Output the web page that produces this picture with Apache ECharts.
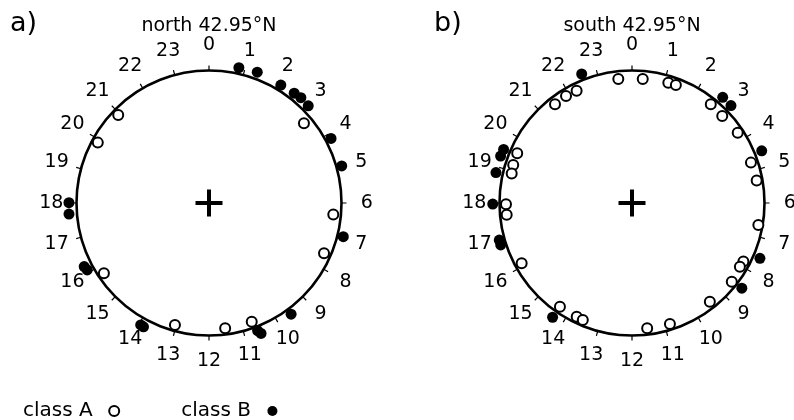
<!DOCTYPE html>
<html><head><meta charset="utf-8">
<script src="https://cdn.jsdelivr.net/npm/echarts/dist/echarts.min.js"></script>
<style>html,body{margin:0;padding:0;background:#fff}#c{width:794px;height:420px}</style>
</head><body><div id="c"></div>
<script>
// hour tick labels around each dial
const hourLabels = ['0','1','2','3','4','5','6','7','8','9','10','11','12','13','14','15','16','17','18','19','20','21','22','23'];
const panelTitles = ['north 42.95\u00b0N', 'south 42.95\u00b0N'];
const panelTags = ['a)', 'b)'];
const seriesNames = ['class A', 'class B'];
// points as [hour, radius] (radius 1 = dial circle)
const northA = [[3.33,0.936],[20.94,0.954],[19.90,0.955],[6.35,0.942],[7.57,0.947],[15.75,0.954],[13.04,0.956],[11.51,0.953],[10.68,0.952]];
const northB = [[0.83,1.046],[1.35,1.052],[2.09,1.042],[2.52,1.049],[2.74,1.055],[3.04,1.048],[4.14,1.042],[4.96,1.04],[18.01,1.057],[17.70,1.06],[6.94,1.045],[16.20,1.057],[16.08,1.049],[13.95,1.055],[13.86,1.057],[10.61,1.03],[10.55,1.06],[9.57,1.043]];
const southA = [[23.58,0.942],[0.33,0.94],[1.12,0.948],[1.36,0.95],[22.25,0.945],[21.89,0.949],[21.47,0.945],[2.57,0.954],[3.07,0.946],[3.76,0.958],[4.75,0.948],[5.32,0.956],[19.56,0.944],[19.18,0.941],[18.92,0.935],[17.96,0.951],[17.64,0.95],[16.09,0.949],[6.66,0.968],[7.85,0.95],[8.04,0.946],[8.55,0.959],[9.45,0.949],[14.32,0.953],[13.73,0.954],[13.52,0.958],[11.54,0.953],[10.84,0.957]];
const southB = [[22.58,1.045],[2.71,1.051],[3.03,1.048],[4.54,1.055],[19.51,1.05],[19.31,1.053],[18.84,1.052],[17.97,1.051],[16.96,1.04],[16.82,1.04],[7.56,1.052],[8.52,1.049],[14.32,1.05]];

const FONT = 'DejaVu Sans';
const LABEL_R = 1.19;
const centers = [[209, 203], [632, 203]];
const plusPath = 'path://M0,11.5L27,11.5L27,15.5L0,15.5Z M11.5,0L15.5,0L15.5,27L11.5,27Z';

const toPolar = arr => arr.map(p => [p[1], p[0]]);

function panelSeries(idx, A, B) {
  return [
    { type: 'scatter', coordinateSystem: 'polar', polarIndex: idx, name: seriesNames[0],
      data: toPolar(A), symbol: 'circle', symbolSize: 10, clip: false, silent: true, z: 4,
      itemStyle: { color: '#fff', borderColor: '#000', borderWidth: 2, opacity: 1 } },
    { type: 'scatter', coordinateSystem: 'polar', polarIndex: idx, name: seriesNames[1],
      data: toPolar(B), symbol: 'circle', symbolSize: 11, clip: false, silent: true, z: 4,
      itemStyle: { color: '#000', opacity: 1 } },
    { type: 'scatter', coordinateSystem: 'polar', polarIndex: idx, name: 'centre',
      data: [[0, 0]], symbol: plusPath, symbolSize: 27, clip: false, silent: true, z: 3,
      itemStyle: { color: '#000', opacity: 1 } },
    { type: 'scatter', coordinateSystem: 'polar', polarIndex: idx, name: 'hours',
      data: hourLabels.map((t, i) => [LABEL_R, i]), symbolSize: 0, clip: false, silent: true, z: 3,
      itemStyle: { color: 'transparent', opacity: 1 },
      label: { show: true, position: 'inside', formatter: p => hourLabels[p.dataIndex],
               color: '#000', opacity: 1, fontSize: 19, fontFamily: FONT } }
  ];
}

const chart = echarts.init(document.getElementById('c'), null, { renderer: 'canvas' });
const axisCommon = {
  type: 'value', min: 0, max: 24, interval: 1, startAngle: 90, clockwise: true,
  axisLine: { show: true, lineStyle: { color: '#000', width: 2.6 } },
  axisTick: { show: true, length: 5, lineStyle: { color: '#000', width: 1.2 } },
  axisLabel: { show: false }, splitLine: { show: false }, splitArea: { show: false }
};
chart.setOption({
  animation: false,
  backgroundColor: '#fff',
  polar: centers.map(c => ({ center: c, radius: 132.5 })),
  angleAxis: [0, 1].map(i => Object.assign({ polarIndex: i }, axisCommon)),
  radiusAxis: [0, 1].map(i => ({ polarIndex: i, min: 0, max: 1, show: false,
    axisLine: { show: false }, axisTick: { show: false }, axisLabel: { show: false },
    splitLine: { show: false } })),
  legend: {
    left: 18, top: 396, align: 'right', itemWidth: 33, itemHeight: 10, itemGap: 61,
    selectedMode: false,
    data: [
      { name: seriesNames[0], icon: 'circle', itemStyle: { color: '#fff', borderColor: '#000', borderWidth: 2, opacity: 1 } },
      { name: seriesNames[1], icon: 'circle', itemStyle: { color: '#000', borderWidth: 0, opacity: 1 } }
    ],
    textStyle: { fontSize: 20, fontFamily: FONT, color: '#000' }
  },
  graphic: [0, 1].flatMap(i => [
    { type: 'text', x: centers[i][0], y: 26, silent: true,
      style: { text: panelTitles[i], fontSize: 19, fontFamily: FONT, fill: '#000',
               align: 'center', verticalAlign: 'middle', textAlign: 'center', textVerticalAlign: 'middle' } },
    { type: 'text', x: i === 0 ? 10 : 434, y: 24, silent: true,
      style: { text: panelTags[i], fontSize: 27, fontFamily: FONT, fill: '#000',
               align: 'left', verticalAlign: 'middle', textAlign: 'left', textVerticalAlign: 'middle' } }
  ]),
  series: panelSeries(0, northA, northB).concat(panelSeries(1, southA, southB))
});
</script>
</body></html>
